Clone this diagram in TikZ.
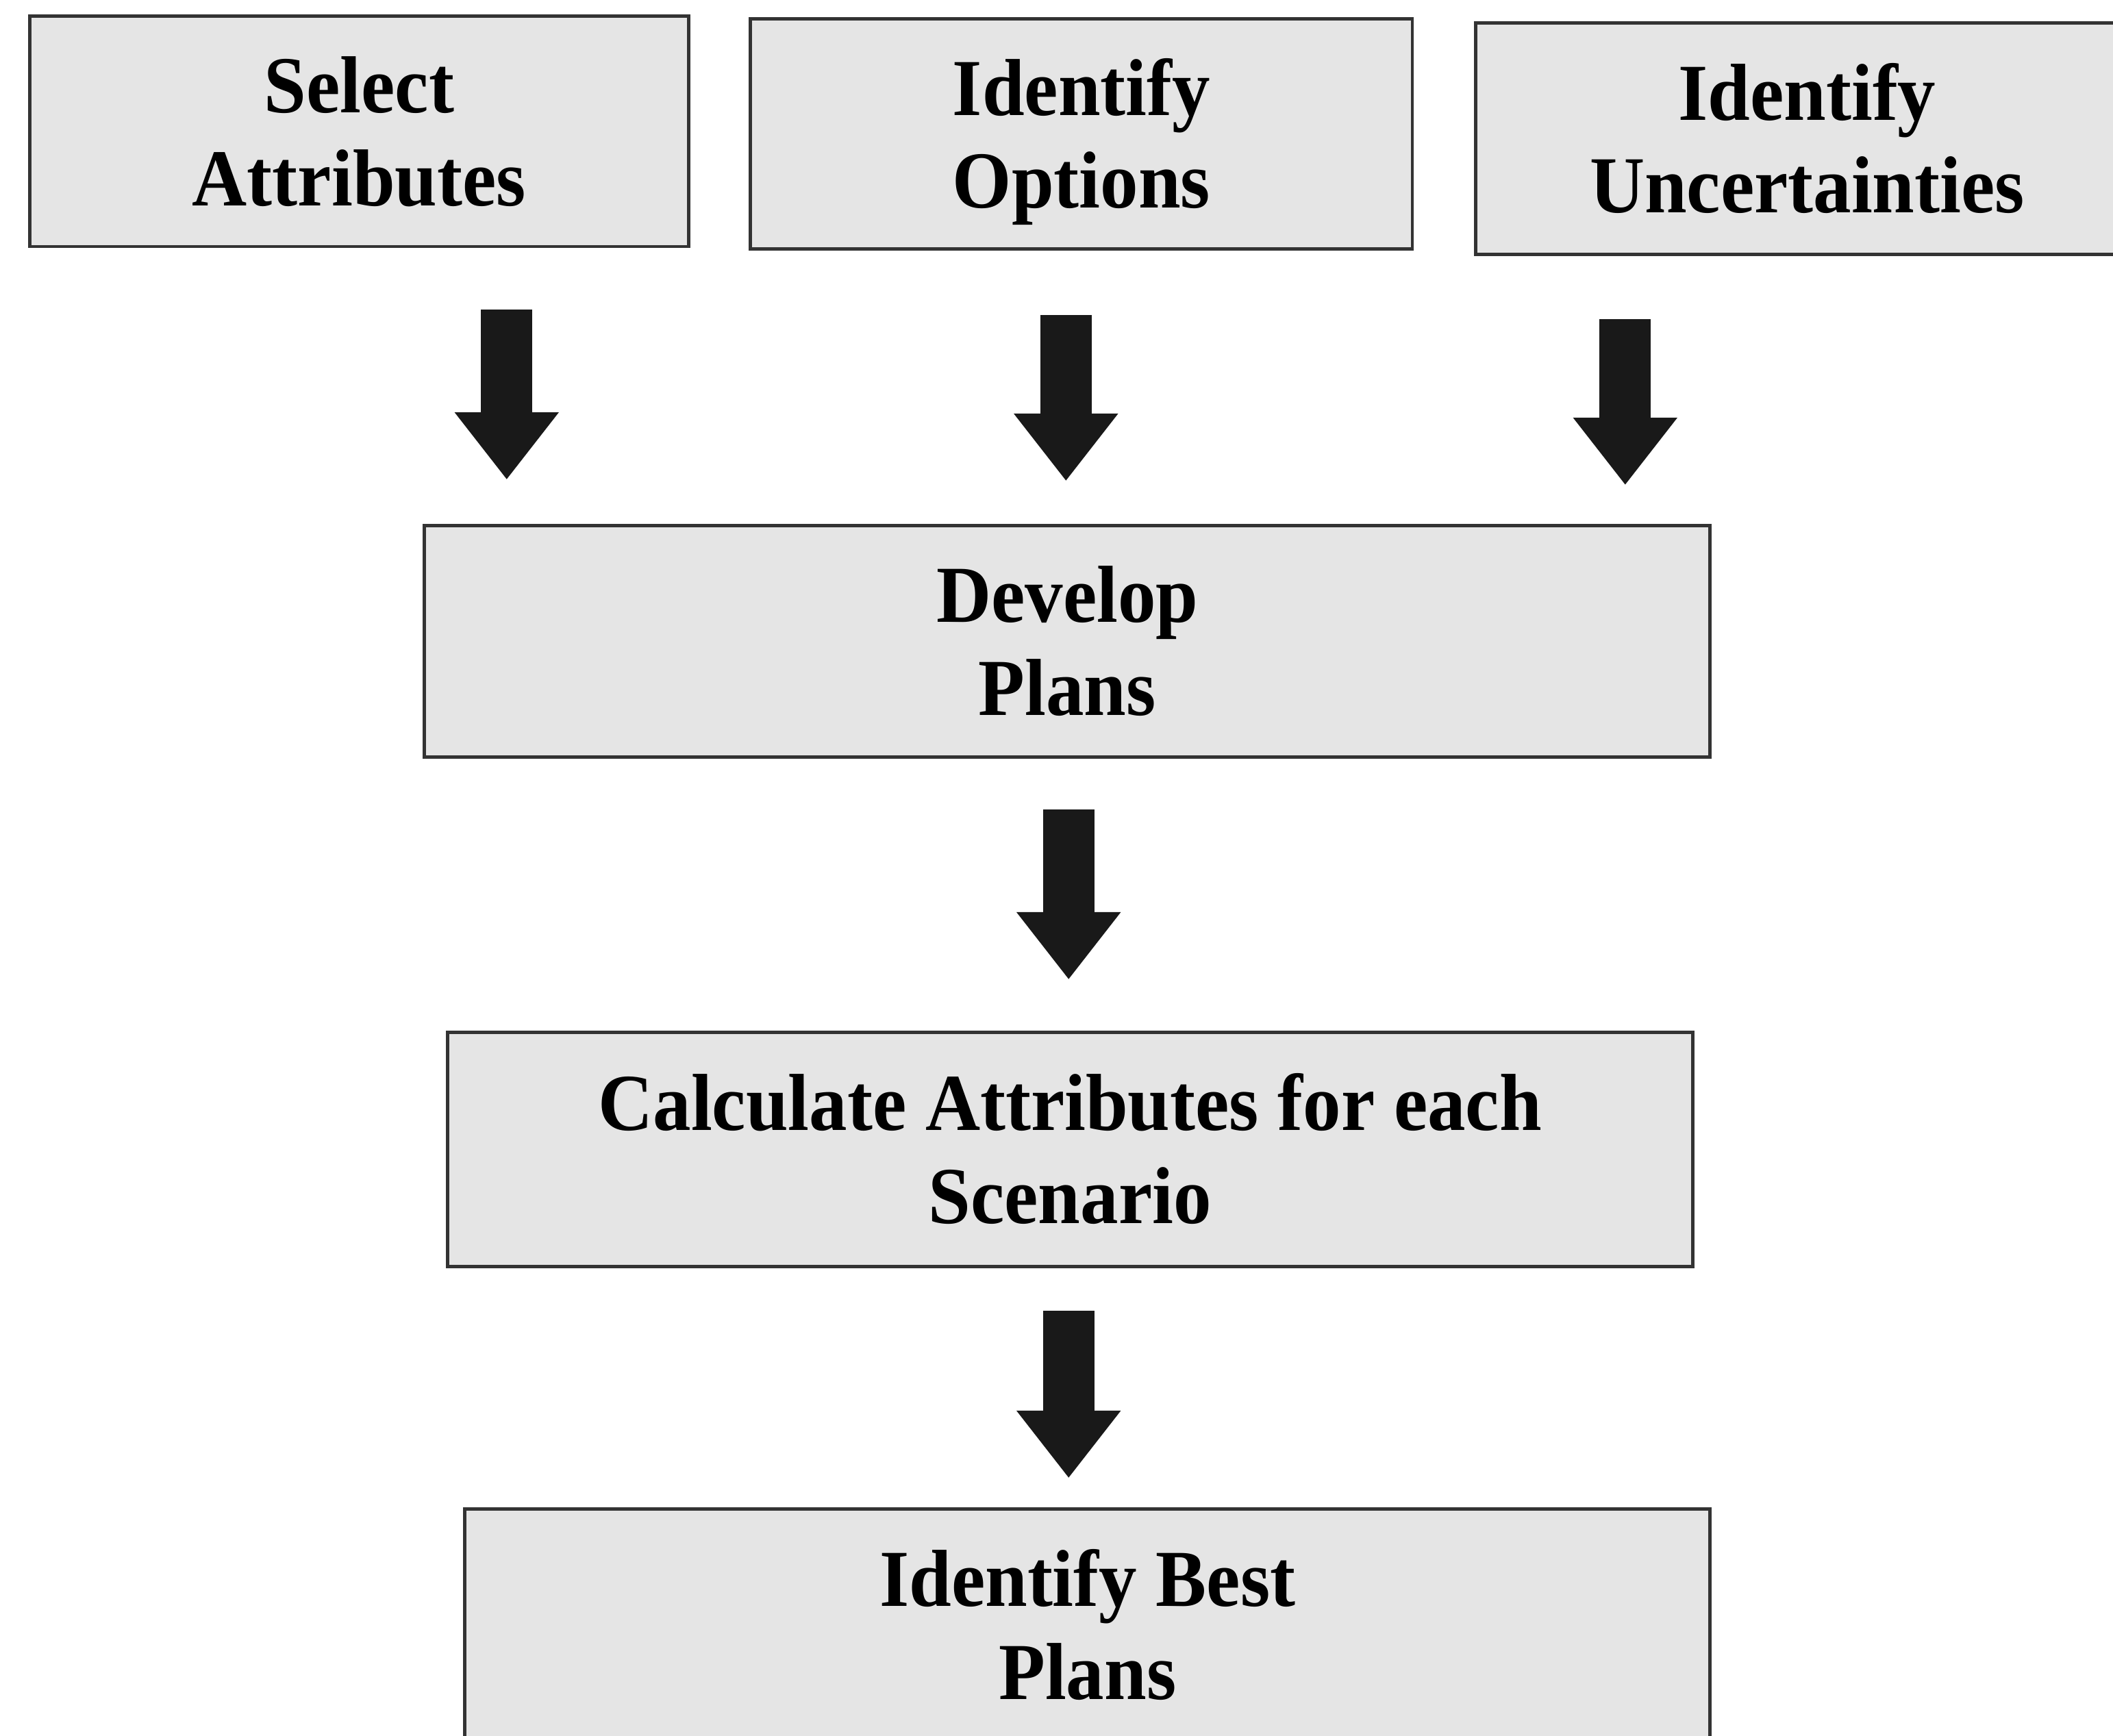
\documentclass[tikz,border=0pt]{standalone}
\usepackage{fontspec}
\setmainfont{Liberation Serif}[FakeStretch=0.94]
\usetikzlibrary{arrows.meta}

\tikzset{
  stepbox/.style={draw=black!80, line width=0.5pt, fill=gray!20,
    inner sep=0pt, align=center, text height=22pt, text depth=0pt,
    font=\bfseries\fontsize{12}{13.8}\selectfont},
  blockarrow/.style={line width=7.6pt, black!90,
    -{Triangle[width=14.8pt, length=10pt]}}
}

\begin{document}
\begin{tikzpicture}[x=0.2pt, y=-0.2pt]
  \useasboundingbox (0,0) rectangle (1568,1288);
  \fill[white] (0,0) rectangle (1568,1288);
  \clip (0,0) rectangle (1568,1288);

  % top row: three inputs
  \node[stepbox, minimum width=97.8pt, minimum height=34.2pt] (sel) at (266.5,97.5) {Select\\Attributes};
  \node[stepbox, minimum width=98.2pt, minimum height=34.2pt] (opt) at (802.5,99.5) {Identify\\Options};
  \node[stepbox, minimum width=98.4pt, minimum height=34.4pt] (unc) at (1341,103) {Identify\\Uncertainties};

  % main sequence
  \node[stepbox, minimum width=190.8pt, minimum height=34.4pt] (dev) at (792,476) {Develop\\Plans};
  \node[stepbox, minimum width=184.8pt, minimum height=34.8pt] (calc) at (794,853) {Calculate Attributes for each\\Scenario};
  \node[stepbox, minimum width=184.8pt, minimum height=34.4pt] (best) at (807,1206) {Identify Best\\Plans};

  % arrow end points between the boxes
  \coordinate (s1) at (376,230);  \coordinate (e1) at (376,356);
  \coordinate (s2) at (791,234);  \coordinate (e2) at (791,357);
  \coordinate (s3) at (1206,237); \coordinate (e3) at (1206,360);
  \coordinate (s4) at (793,601);  \coordinate (e4) at (793,727);
  \coordinate (s5) at (793,973);  \coordinate (e5) at (793,1097);

  \draw[blockarrow] (s1) -- (e1);
  \draw[blockarrow] (s2) -- (e2);
  \draw[blockarrow] (s3) -- (e3);
  \draw[blockarrow] (s4) -- (e4);
  \draw[blockarrow] (s5) -- (e5);
\end{tikzpicture}
\end{document}
